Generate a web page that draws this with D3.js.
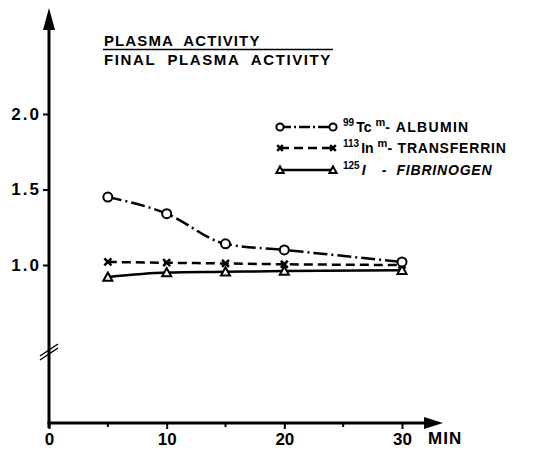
<!DOCTYPE html>
<html lang="en">
<head>
    <meta charset="UTF-8">
    <title>Plasma activity</title>
    <script src="https://d3js.org/d3.v7.min.js"></script>
    <style>
        body {
            margin: 0;
            background: #fff;
            font-family: "Liberation Sans", Arial, sans-serif;
        }
        text {
            fill: #000;
            font-weight: bold;
        }
        .axis path, .axis line {
            stroke: #000;
        }
        .serie {
            fill: none;
            stroke: #000;
            stroke-width: 2.5;
        }
    </style>
</head>
<body>
    <div id="chart"></div>
    <script>
        // data
        var minutes = [5, 10, 15, 20, 30];
        var albumin = [1.45, 1.34, 1.14, 1.10, 1.02];
        var transferrin = [1.02, 1.015, 1.01, 1.005, 1.0];
        var fibrinogen = [0.92, 0.95, 0.955, 0.96, 0.965];
        var xTicks = [0, 10, 20, 30];
        var xMinor = [5, 15, 25];
        var yTicks = [1.0, 1.5, 2.0];

        var w = 554, h = 450;

        var svg = d3.select("#chart").append("svg")
            .attr("width", w)
            .attr("height", h);

        var x = d3.scaleLinear().domain([0, 30]).range([49, 402]);
        var y = d3.scaleLinear().domain([1.0, 2.0]).range([265, 114]);
        var x0 = 49, yBase = 423;

        // y axis line + arrow
        svg.append("line")
            .attr("x1", x0).attr("y1", 24)
            .attr("x2", x0).attr("y2", yBase + 5)
            .attr("stroke", "#000").attr("stroke-width", 3);
        svg.append("path")
            .attr("d", "M" + x0 + ",8 L" + (x0 - 6) + ",30 L" + (x0 + 6) + ",30 Z")
            .attr("fill", "#000");

        // x axis line + arrow
        svg.append("line")
            .attr("x1", x0 - 1.5).attr("y1", yBase)
            .attr("x2", 428).attr("y2", yBase)
            .attr("stroke", "#000").attr("stroke-width", 3);
        svg.append("path")
            .attr("d", "M443," + yBase + " L424," + (yBase - 6) + " L424," + (yBase + 6) + " Z")
            .attr("fill", "#000");

        // y ticks
        var yAxis = d3.axisLeft(y).tickValues(yTicks).tickSize(6).tickPadding(2)
            .tickFormat(d3.format(".1f"));
        var gy = svg.append("g").attr("class", "axis")
            .attr("transform", "translate(" + x0 + ",0)")
            .call(yAxis);
        gy.select(".domain").remove();
        gy.selectAll("line").attr("stroke-width", 2);
        gy.selectAll("text")
            .style("font-size", "17px")
            .style("letter-spacing", "2px")
            .attr("font-family", "Liberation Sans, Arial, sans-serif");

        // x ticks
        var xAxis = d3.axisBottom(x).tickValues(xTicks).tickSize(6).tickPadding(4)
            .tickFormat(d3.format("d"));
        var gx = svg.append("g").attr("class", "axis")
            .attr("transform", "translate(0," + yBase + ")")
            .call(xAxis);
        gx.select(".domain").remove();
        gx.selectAll("line").attr("stroke-width", 2);
        gx.selectAll("text")
            .style("font-size", "17px")
            .attr("font-family", "Liberation Sans, Arial, sans-serif");

        svg.selectAll(".minor")
            .data(xMinor)
            .enter().append("line")
            .attr("class", "minor")
            .attr("x1", function(d) { return x(d); })
            .attr("x2", function(d) { return x(d); })
            .attr("y1", yBase)
            .attr("y2", yBase + 4)
            .attr("stroke", "#000").attr("stroke-width", 2);

        svg.append("text")
            .attr("x", 428).attr("y", 444)
            .style("font-size", "17px")
            .style("letter-spacing", "1px")
            .text("MIN");

        // axis break
        [0, 4].forEach(function(off) {
            svg.append("line")
                .attr("x1", 40).attr("y1", 356 + off)
                .attr("x2", 58).attr("y2", 344 + off)
                .attr("stroke", "#000").attr("stroke-width", 1.5);
        });

        // y title as fraction
        svg.append("text")
            .attr("x", 104).attr("y", 46)
            .style("font-size", "15px")
            .style("letter-spacing", "1.1px")
            .style("white-space", "pre")
            .text("PLASMA  ACTIVITY");
        svg.append("line")
            .attr("x1", 103).attr("x2", 333)
            .attr("y1", 49.5).attr("y2", 49.5)
            .attr("stroke", "#000").attr("stroke-width", 1.5);
        svg.append("text")
            .attr("x", 104).attr("y", 65)
            .style("font-size", "15px")
            .style("letter-spacing", "1.6px")
            .style("white-space", "pre")
            .text("FINAL  PLASMA  ACTIVITY");

        // series
        var series = [
            {name: "alb", values: albumin, dash: "14,4,2,4", marker: "circle"},
            {name: "trf", values: transferrin, dash: "9,5", marker: "cross"},
            {name: "fib", values: fibrinogen, dash: null, marker: "triangle"}
        ];

        var line = d3.line()
            .x(function(d) { return x(d[0]); })
            .y(function(d) { return y(d[1]); })
            .curve(d3.curveMonotoneX);

        function drawMarker(g, kind, cx, cy, k) {
            if (kind === "circle") {
                g.append("circle")
                    .attr("cx", cx).attr("cy", cy).attr("r", 4.5 * k)
                    .attr("fill", "#fff").attr("stroke", "#000").attr("stroke-width", 2);
            } else if (kind === "cross") {
                var a = 3.5 * k;
                g.append("path")
                    .attr("d", "M" + (cx - a) + "," + (cy - a) + " L" + (cx + a) + "," + (cy + a) +
                        " M" + (cx - a) + "," + (cy + a) + " L" + (cx + a) + "," + (cy - a))
                    .attr("stroke", "#000").attr("stroke-width", 2.5);
            } else {
                var b = 4.5 * k;
                g.append("path")
                    .attr("d", "M" + cx + "," + (cy - b) + " L" + (cx + b) + "," + (cy + b * 0.8) +
                        " L" + (cx - b) + "," + (cy + b * 0.8) + " Z")
                    .attr("fill", "#fff").attr("stroke", "#000").attr("stroke-width", 2);
            }
        }

        // draw back to front so circles stay on top
        series.slice().reverse().forEach(function(s) {
            var pts = minutes.map(function(m, i) { return [m, s.values[i]]; });
            var g = svg.append("g");
            g.append("path")
                .datum(pts)
                .attr("class", "serie")
                .attr("stroke-dasharray", s.dash)
                .attr("d", line);
            pts.forEach(function(p) {
                drawMarker(g, s.marker, x(p[0]), y(p[1]), 1);
            });
        });

        // legend
        var legendRows = [
            {s: series[0], y: 127, sup: "99", el: "Tc", m: "m", rest: "- ALBUMIN", italic: false, ls: 1.3},
            {s: series[1], y: 148, sup: "113", el: "In", m: "m", rest: "- TRANSFERRIN", italic: false, ls: 0.8},
            {s: series[2], y: 170, sup: "125", el: "I", m: "", rest: "   -  FIBRINOGEN", italic: true, ls: 0.8}
        ];
        legendRows.forEach(function(r) {
            var g = svg.append("g");
            g.append("line")
                .attr("x1", 280).attr("x2", 333)
                .attr("y1", r.y).attr("y2", r.y)
                .attr("stroke", "#000").attr("stroke-width", 2.5)
                .attr("stroke-dasharray", r.s.dash === "14,4,2,4" ? "11,3,2,3" : r.s.dash);
            drawMarker(g, r.s.marker, 280, r.y, 0.8);
            drawMarker(g, r.s.marker, 333, r.y, 0.8);

            var t = g.append("text")
                .attr("x", 343).attr("y", r.y + 5)
                .style("font-size", "14px")
                .style("white-space", "pre");
            t.append("tspan").attr("dy", -6).style("font-size", "10px").text(r.sup);
            t.append("tspan").attr("dy", 6).attr("dx", 2)
                .style("font-style", r.italic ? "italic" : "normal")
                .text(r.el);
            if (r.m) {
                t.append("tspan").attr("dy", -6).attr("dx", 4).style("font-size", "11px").text(r.m);
                t.append("tspan").attr("dy", 6).style("letter-spacing", r.ls + "px").text(r.rest);
            } else {
                t.append("tspan").attr("dx", 2)
                    .style("font-style", "italic")
                    .style("letter-spacing", r.ls + "px")
                    .text(r.rest);
            }
        });
    </script>
</body>
</html>
